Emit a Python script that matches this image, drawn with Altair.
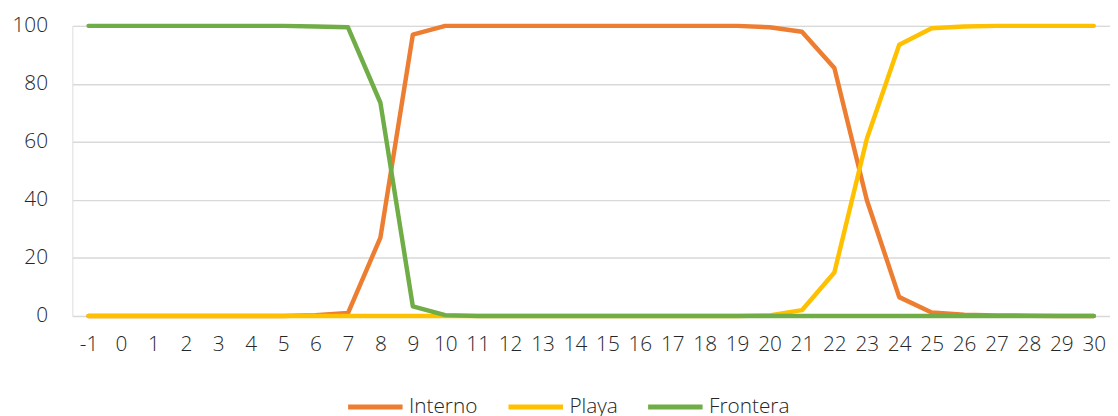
import altair as alt
import pandas as pd

categories = [str(i) for i in range(-1, 31)]
series_names = ["Interno", "Playa", "Frontera"]
colors = ["#ED7D31", "#FFC000", "#70AD47"]

interno = [0, 0, 0, 0, 0, 0, 0, 0.3, 1, 27, 97, 100,
           100, 100, 100, 100, 100, 100, 100, 100, 100, 99.5,
           98, 85.5, 40, 6.5, 1.2, 0.4, 0.2, 0.1, 0, 0]
playa = [0, 0, 0, 0, 0, 0, 0, 0, 0, 0, 0, 0,
         0, 0, 0, 0, 0, 0, 0, 0, 0, 0.2,
         2, 15, 61, 93.5, 99.2, 99.8, 100, 100, 100, 100]
frontera = [100, 100, 100, 100, 100, 100, 100, 99.8, 99.5, 73.5, 3.3, 0.3,
            0, 0, 0, 0, 0, 0, 0, 0, 0, 0,
            0, 0, 0, 0, 0, 0, 0, 0, 0, 0]

rows = []
for name, vals in zip(series_names, [interno, playa, frontera]):
    for c, v in zip(categories, vals):
        rows.append({"x": c, "value": v, "serie": name})
df = pd.DataFrame(rows)

FONT = "Open Sans"
TEXT_COLOR = "#262626"

color_scale = alt.Scale(domain=series_names, range=colors)
x_enc = alt.X(
    "x:O",
    sort=categories,
    scale=alt.Scale(type="point", padding=0.5),
    axis=alt.Axis(title=None, labelAngle=0, labelOverlap=False, ticks=False,
                  domain=False, grid=False, labelPadding=18, labelFontSize=21,
                  labelColor=TEXT_COLOR, labelFont=FONT, labelFontWeight=300),
)
y_enc = alt.Y(
    "value:Q",
    scale=alt.Scale(domain=[0, 100], nice=False),
    axis=alt.Axis(title=None, values=[0, 20, 40, 60, 80, 100], ticks=False,
                  domain=False, grid=True, gridColor="#D9D9D9", gridWidth=1.5,
                  labelPadding=25, labelFontSize=21, labelColor=TEXT_COLOR,
                  labelFont=FONT, labelFontWeight=300),
)

layers = []
for i, name in enumerate(series_names):
    layer = (
        alt.Chart(df)
        .transform_filter(alt.datum.serie == name)
        .mark_line(strokeWidth=4.5, strokeJoin="round", strokeCap="round")
        .encode(
            x=x_enc,
            y=y_enc,
            color=alt.Color(
                "serie:N",
                scale=color_scale,
                legend=alt.Legend(
                    title=None, orient="none", direction="horizontal",
                    legendX=276, legendY=355, symbolType="stroke",
                    symbolSize=3025, symbolStrokeWidth=5, labelFontSize=21,
                    labelFont=FONT, labelFontWeight=300, labelColor=TEXT_COLOR,
                    labelOffset=4, columnPadding=20,
                ) if i == 0 else None,
            ),
        )
    )
    layers.append(layer)

chart = (
    alt.layer(*layers)
    .properties(width=1048, height=293, padding={"left": 4, "top": 5, "right": 0, "bottom": 0})
    .configure_view(stroke=None)
    .configure(background="white")
)

chart.save("out.html", embed_options={"renderer": "svg", "actions": False})
